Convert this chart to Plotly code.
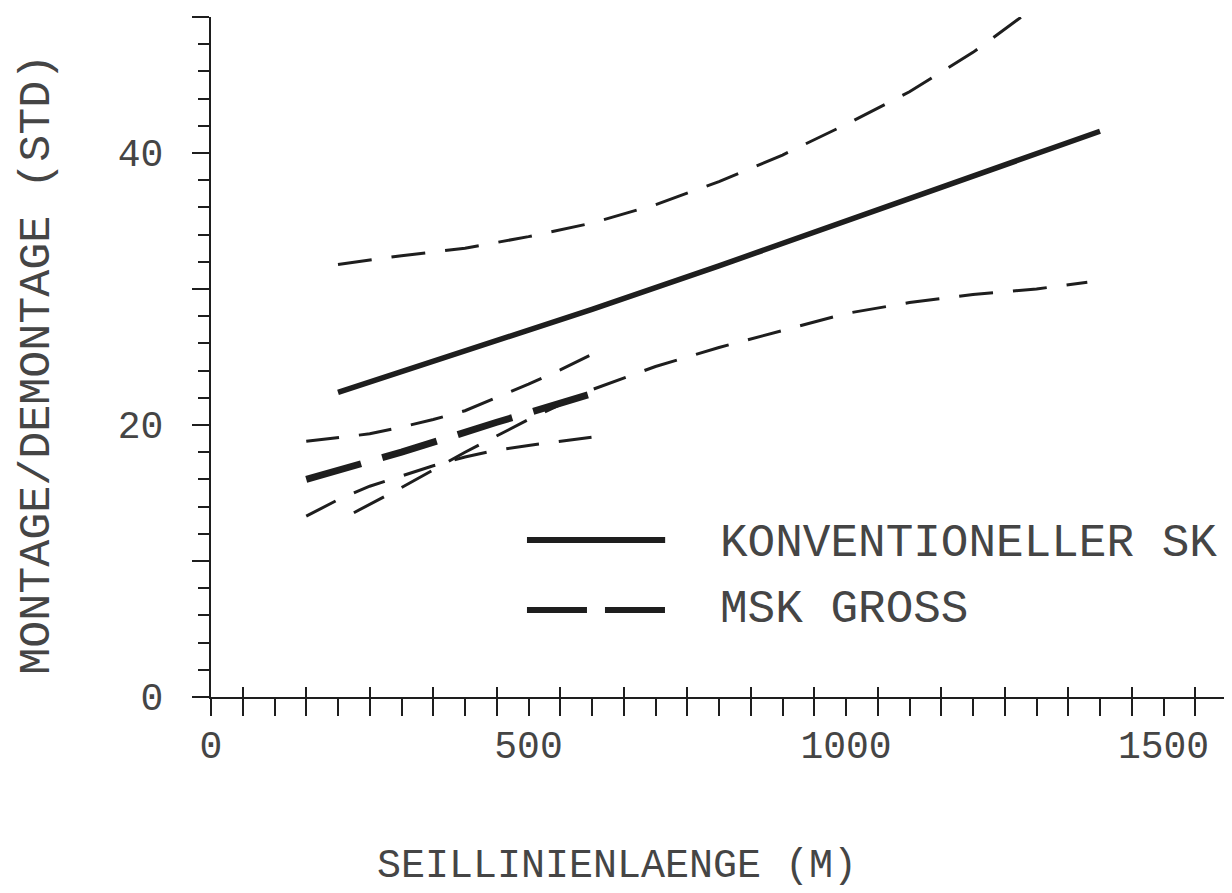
import plotly.graph_objects as go

# ---- data ----
conv_x = [200, 400, 600, 800, 1000, 1200, 1400]
conv_mean = [22.4, 25.4, 28.5, 31.7, 35.0, 38.3, 41.6]

conv_upper_x = [200, 300, 400, 500, 600, 700, 800, 900, 1000, 1100, 1200, 1285]
conv_upper = [31.8, 32.45, 33.0, 33.85, 34.85, 36.2, 37.9, 39.85, 42.1, 44.5, 47.4, 50.3]

conv_lower_x = [225, 300, 400, 500, 600, 700, 800, 900, 1000, 1100, 1200, 1300, 1380]
conv_lower = [13.55, 15.4, 18.0, 20.4, 22.6, 24.3, 25.7, 26.95, 28.2, 29.0, 29.6, 30.0, 30.5]

msk_x = [150, 300, 450, 600]
msk_mean = [16.0, 18.0, 20.2, 22.3]

msk_band_x = [150, 200, 250, 300, 350, 400, 450, 500, 550, 600]
msk_upper = [18.8, 19.1, 19.35, 19.85, 20.4, 21.05, 22.0, 23.0, 24.05, 25.2]
msk_lower = [13.3, 14.5, 15.5, 16.25, 17.0, 17.65, 18.15, 18.5, 18.8, 19.1]

x_tickvals = list(range(0, 1551, 50))
x_ticktext = [str(v) if v in (0, 500, 1000, 1500) else "" for v in x_tickvals]
y_tickvals = [0, 10, 20, 30, 40, 50]
y_ticktext = ["0", "", "20", "", "40", ""]

series_names = ["KONVENTIONELLER SK", "MSK GROSS"]
x_title = "SEILLINIENLAENGE (M)"
y_title = "MONTAGE/DEMONTAGE (STD)"

INK = "#1e1e1e"
TXT = "#454545"
FONT = "Liberation Mono"

fig = go.Figure()

def add(x, y, width, dash):
    fig.add_trace(go.Scatter(x=x, y=y, mode="lines", showlegend=False,
                             line=dict(color=INK, width=width, dash=dash)))

add(conv_x, conv_mean, 5.5, "solid")
add(conv_upper_x, conv_upper, 3, "34px,20px")
add(conv_lower_x, conv_lower, 3, "34px,20px")
add(msk_x, msk_mean, 7, "57px,22px")
add(msk_band_x, msk_upper, 3, "33px,20px")
add(msk_band_x, msk_lower, 3, "33px,20px")

# manual legend
fig.add_shape(type="line", xref="paper", yref="paper", x0=0.311, x1=0.447,
              y0=0.231, y1=0.231, line=dict(color=INK, width=6))
fig.add_shape(type="line", xref="paper", yref="paper", x0=0.311, x1=0.447,
              y0=0.128, y1=0.128, line=dict(color=INK, width=6, dash="60px,18px"))
fig.add_annotation(xref="paper", yref="paper", x=0.499, y=0.225, text=series_names[0],
                   showarrow=False, xanchor="left", yanchor="middle",
                   font=dict(family=FONT, size=46, color=TXT))
fig.add_annotation(xref="paper", yref="paper", x=0.499, y=0.128, text=series_names[1],
                   showarrow=False, xanchor="left", yanchor="middle",
                   font=dict(family=FONT, size=46, color=TXT))

# axis titles
fig.add_annotation(xref="paper", yref="paper", x=0.3996, y=-0.285, text=x_title,
                   showarrow=False, xanchor="center", yanchor="bottom",
                   font=dict(family=FONT, size=40, color=TXT))
fig.add_annotation(xref="paper", yref="paper", x=-0.1703, y=0.49, text=y_title,
                   showarrow=False, xanchor="center", yanchor="middle", textangle=-90,
                   font=dict(family=FONT, size=45, color=TXT))

fig.update_layout(
    width=1224, height=885,
    margin=dict(l=203, r=5, t=9, b=196),
    paper_bgcolor="white", plot_bgcolor="white",
    showlegend=False,
    xaxis=dict(range=[0, 1600], tickmode="array", tickvals=x_tickvals, ticktext=x_ticktext,
               showgrid=False, zeroline=False, showline=True, linecolor=INK, linewidth=2,
               ticks="outside", ticklen=17, tickwidth=1.5, tickcolor=INK,
               ticklabelstandoff=-4,
               tickfont=dict(family=FONT, size=38, color=TXT),
               minor=dict(tick0=50, dtick=100, ticks="inside", ticklen=10,
                          tickwidth=1.5, tickcolor=INK, showgrid=False)),
    yaxis=dict(range=[0, 50], tickmode="array", tickvals=y_tickvals, ticktext=y_ticktext,
               showgrid=False, zeroline=False, showline=True, linecolor=INK, linewidth=2,
               ticks="outside", ticklen=17, tickwidth=1.5, tickcolor=INK,
               ticklabelstandoff=21,
               tickfont=dict(family=FONT, size=38, color=TXT),
               minor=dict(dtick=2, ticks="outside", ticklen=11, tickwidth=1.5,
                          tickcolor=INK, showgrid=False)),
)

fig.write_html("out.html")
